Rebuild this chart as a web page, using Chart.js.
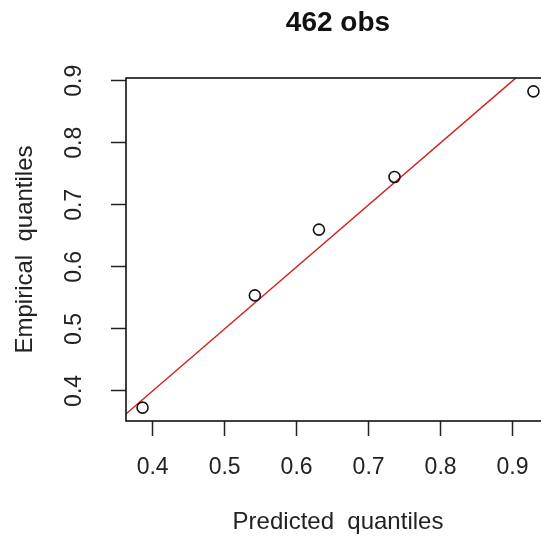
<!DOCTYPE html>
<html>
<head>
<meta charset="utf-8">
<title>462 obs</title>
<script src="https://cdn.jsdelivr.net/npm/chart.js@4/dist/chart.umd.min.js"></script>
<style>
  html, body { margin: 0; padding: 0; background: #ffffff; overflow: hidden; }
  #wrap { width: 560px; height: 542px; }
</style>
</head>
<body>
<div id="wrap"><canvas id="qq" width="560" height="542"></canvas></div>
<script>
// Quantile–quantile comparison: predicted vs empirical quantiles
const predictedQuantiles = [0.386, 0.542, 0.631, 0.736, 0.929];
const empiricalQuantiles = [0.373, 0.554, 0.660, 0.745, 0.883];

// Reference line y = x
const refLineX = [0, 1];
const refLineY = [0, 1];

// Axis ticks
const xTickValues = [0.4, 0.5, 0.6, 0.7, 0.8, 0.9];
const yTickValues = [0.4, 0.5, 0.6, 0.7, 0.8, 0.9];

const FONT = "'Liberation Sans', Arial, Helvetica, sans-serif";

const qqPoints = predictedQuantiles.map((x, i) => ({ x, y: empiricalQuantiles[i] }));
const refLine = refLineX.map((x, i) => ({ x, y: refLineY[i] }));

// Full box around the plotting region
const frameBox = {
  id: 'frameBox',
  afterDatasetsDraw(chart) {
    const { ctx, chartArea: a } = chart;
    ctx.save();
    ctx.strokeStyle = '#111111';
    ctx.lineWidth = 1.6;
    ctx.strokeRect(a.left, a.top, a.right - a.left, a.bottom - a.top);
    ctx.restore();
  }
};

new Chart(document.getElementById('qq'), {
  type: 'scatter',
  data: {
    datasets: [
      {
        label: 'y = x',
        type: 'line',
        data: refLine,
        borderColor: '#d0201c',
        borderWidth: 1.5,
        pointRadius: 0,
        fill: false,
        order: 2
      },
      {
        label: 'quantiles',
        data: qqPoints,
        pointStyle: 'circle',
        pointRadius: 5.5,
        pointHoverRadius: 5.5,
        borderColor: '#111111',
        borderWidth: 1.6,
        backgroundColor: 'rgba(255,255,255,0)',
        order: 1
      }
    ]
  },
  plugins: [frameBox],
  options: {
    responsive: false,
    animation: false,
    devicePixelRatio: 1,
    layout: { padding: { left: 0, right: 10, top: 0, bottom: 0 } },
    plugins: {
      legend: { display: false },
      tooltip: { enabled: false },
      title: {
        display: true,
        text: '462 obs',
        fullSize: false,
        color: '#111111',
        font: { family: FONT, size: 28, weight: 'bold', lineHeight: 1.2 },
        padding: { top: 6, bottom: 38.4 }
      }
    },
    scales: {
      x: {
        type: 'linear',
        position: 'bottom',
        min: 0.363,
        max: 0.952,
        afterBuildTicks(scale) { scale.ticks = xTickValues.map(v => ({ value: v })); },
        afterFit(scale) { scale.height = 121; },
        border: { display: false },
        grid: {
          drawOnChartArea: false,
          drawTicks: true,
          tickLength: 15,
          tickColor: '#222222',
          tickWidth: 1.5
        },
        ticks: {
          autoSkip: false,
          includeBounds: false,
          maxRotation: 0,
          padding: 18,
          color: '#222222',
          font: { family: FONT, size: 23 },
          callback: v => v.toFixed(1)
        },
        title: {
          display: true,
          text: 'Predicted  quantiles',
          color: '#222222',
          font: { family: FONT, size: 24, lineHeight: 1.2 },
          padding: { top: 0, bottom: 5 }
        }
      },
      y: {
        type: 'linear',
        position: 'left',
        min: 0.3515,
        max: 0.9045,
        afterBuildTicks(scale) { scale.ticks = yTickValues.map(v => ({ value: v })); },
        afterFit(scale) { scale.width = 126; },
        border: { display: false },
        grid: {
          drawOnChartArea: false,
          drawTicks: true,
          tickLength: 15,
          tickColor: '#222222',
          tickWidth: 1.5
        },
        ticks: {
          autoSkip: false,
          includeBounds: false,
          minRotation: 90,
          maxRotation: 90,
          crossAlign: 'center',
          padding: 20,
          color: '#222222',
          font: { family: FONT, size: 23 },
          callback: v => v.toFixed(1)
        },
        title: {
          display: true,
          text: 'Empirical  quantiles',
          color: '#222222',
          font: { family: FONT, size: 24, lineHeight: 1.2 },
          padding: { top: 11, bottom: 0 }
        }
      }
    }
  }
});
</script>
</body>
</html>
